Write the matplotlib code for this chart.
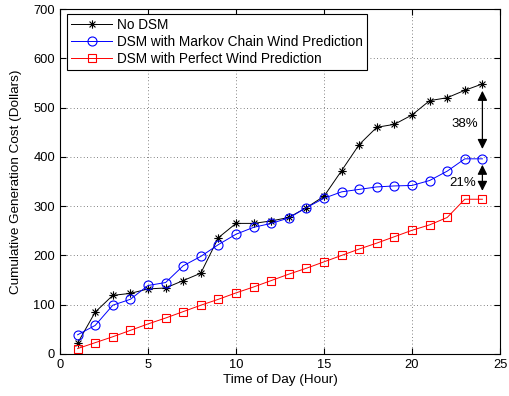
import matplotlib
matplotlib.use("Agg")
import matplotlib.pyplot as plt
import numpy as np
from matplotlib.path import Path

plt.rcParams['font.family'] = ['Liberation Sans', 'DejaVu Sans']

hours = list(range(1, 25))
no_dsm = [22, 85, 119, 123, 132, 134, 149, 164, 236, 265, 265, 270, 277, 297,
          320, 372, 425, 460, 466, 485, 514, 520, 535, 548]
dsm_markov = [39, 58, 99, 111, 139, 145, 179, 198, 222, 243, 257, 265, 276, 297,
              316, 329, 334, 339, 341, 342, 352, 371, 396, 396]
dsm_perfect = [11, 23, 35, 48, 61, 73, 86, 99, 111, 124, 136, 149, 162, 174,
               187, 200, 213, 225, 238, 251, 262, 277, 314, 314]
labels = ["No DSM", "DSM with Markov Chain Wind Prediction",
          "DSM with Perfect Wind Prediction"]
xticks = [0, 5, 10, 15, 20, 25]
yticks = [0, 100, 200, 300, 400, 500, 600, 700]

# MATLAB-style asterisk marker (+ and x combined)
verts, codes = [], []
for ang in (0, 45, 90, 135):
    a = np.deg2rad(ang)
    verts += [(-np.cos(a), -np.sin(a)), (np.cos(a), np.sin(a))]
    codes += [Path.MOVETO, Path.LINETO]
asterisk = Path(verts, codes)

fig = plt.figure(figsize=(5.09, 3.96), dpi=100)
ax = fig.add_axes([60/509, 1-354/396, 440/509, 345/396])

ax.plot(hours, no_dsm, color='black', marker=asterisk, markersize=6, lw=0.7,
        fillstyle='none', markeredgewidth=0.8, label=labels[0])
ax.plot(hours, dsm_markov, color='blue', marker='o', markersize=6.5, lw=0.7,
        markerfacecolor='none', markeredgewidth=0.8, label=labels[1])
ax.plot(hours, dsm_perfect, color='red', marker='s', markersize=5.5, lw=0.7,
        markerfacecolor='none', markeredgewidth=0.8, label=labels[2])

ax.set_xlim(0, 25)
ax.set_ylim(0, 700)
ax.set_xticks(xticks)
ax.set_yticks(yticks)
ax.grid(True, linestyle=(0, (1, 3)), color='0.35', lw=0.6)
ax.tick_params(direction='in', top=True, right=True, labelsize=9.3, length=4)
for s in ax.spines.values():
    s.set_linewidth(0.8)

ax.set_xlabel("Time of Day (Hour)", fontsize=9.7, labelpad=2)
ax.set_ylabel("Cumulative Generation Cost (Dollars)", fontsize=9.7, labelpad=8)

leg = ax.legend(loc='upper left', bbox_to_anchor=(7/440, 340/345),
                borderaxespad=0, fontsize=9.8, frameon=True, fancybox=False,
                edgecolor='black', framealpha=1, borderpad=0.3, labelspacing=0.22,
                handlelength=3.0, handletextpad=0.35)
leg.get_frame().set_linewidth(0.8)

arrow = dict(arrowstyle='<|-|>,head_length=0.58,head_width=0.29', color='black',
             lw=0.9, mutation_scale=10, shrinkA=0, shrinkB=0)
ax.annotate('', xy=(24.0, 534), xytext=(24.0, 416), arrowprops=arrow)
ax.annotate('', xy=(24.0, 384), xytext=(24.0, 331), arrowprops=arrow)
ax.text(23.0, 466, "38%", ha='center', va='center', fontsize=9.5)
ax.text(22.9, 347, "21%", ha='center', va='center', fontsize=9.5)

fig.savefig("out.png", dpi=100)
